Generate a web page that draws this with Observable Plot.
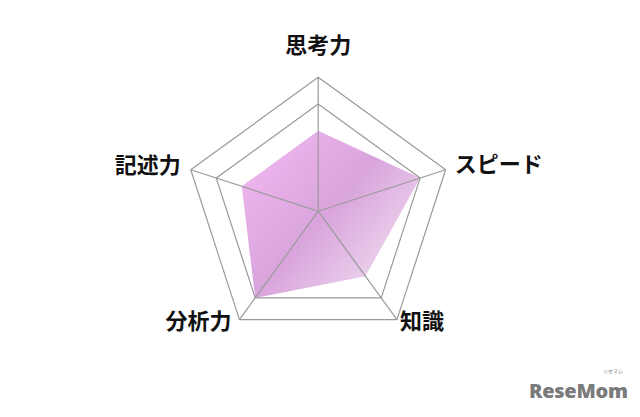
<!DOCTYPE html>
<html><head><meta charset="utf-8">
<script src="https://cdn.jsdelivr.net/npm/d3@7"></script>
<script src="https://cdn.jsdelivr.net/npm/@observablehq/plot@0.6"></script>
<style>
html,body{margin:0;padding:0;background:#fff;}
#chart{position:relative;width:640px;height:417px;}
#logo{position:absolute;left:529px;top:381px;font-family:"Noto Sans",sans-serif;font-weight:900;font-size:20px;line-height:20px;color:#7a7a7a;letter-spacing:-0.3px;}
#kana{position:absolute;left:603px;top:368px;font-family:"Noto Sans CJK JP",sans-serif;font-size:5px;line-height:6px;color:#7a7a7a;}
</style>
</head><body>
<div id="chart"></div>
<script>
const categories = ["思考力", "スピード", "知識", "分析力", "記述力"];
const values = [3, 4, 3, 4, 3];
const maxValue = 5;
const gridLevels = [4, 5];

const n = categories.length;
const ang = i => Math.PI / 2 - i * 2 * Math.PI / n;
const pt = (i, r) => [r * Math.cos(ang(i)), r * Math.sin(ang(i))];

const unit = 134 / maxValue; // px per unit
const cx = 317.7, cy = 210.7, W = 640, H = 417;

const areaData = categories.map((c, i) => { const [x, y] = pt(i, values[i]); return {c, x, y}; });
const gridData = gridLevels.flatMap(l => categories.concat([categories[0]]).map((c, k) => { const i = k % n; const [x, y] = pt(i, l); return {l, x, y}; }));
const spokes = categories.map((c, i) => { const [x, y] = pt(i, maxValue); return {x1: 0, y1: 0, x2: x, y2: y}; });
const labels = categories.map((c, i) => {
  const [x, y] = pt(i, maxValue);
  const cs = Math.cos(ang(i)), sn = Math.sin(ang(i));
  let ox = 0, oy = 0, anchor = "middle";
  if (Math.abs(cs) < 0.1) { oy = 31; }
  else if (cs > 0) { anchor = "start"; ox = sn > 0 ? 9 : 3; oy = sn > 0 ? 5 : -2; }
  else { anchor = "end"; ox = sn > 0 ? -10 : -8; oy = sn > 0 ? 4 : -2; }
  return {c, x: x + ox / unit, y: y + oy / unit, anchor};
});

const chart = document.getElementById("chart");
const p = Plot.plot({
  width: W, height: H,
  margin: 0,
  x: {domain: [-cx / unit, (W - cx) / unit], axis: null},
  y: {domain: [-(H - cy) / unit, cy / unit], axis: null},
  marks: [
    Plot.line(areaData.concat([areaData[0]]), {x: "x", y: "y", fill: "url(#radarGrad)", stroke: "none"}),
    Plot.line(gridData, {x: "x", y: "y", z: "l", stroke: "#9a9a9a", strokeWidth: 1.2}),
    Plot.link(spokes, {x1: "x1", y1: "y1", x2: "x2", y2: "y2", stroke: "#9a9a9a", strokeWidth: 1.2}),
    ...["start", "middle", "end"].map(a => Plot.text(labels.filter(d => d.anchor === a), {
      x: "x", y: "y", text: "c", textAnchor: a,
      fontSize: 22, fontWeight: 700, fill: "#111",
      fontFamily: "'Noto Sans CJK JP', sans-serif"
    }))
  ]
});
const ns = "http://www.w3.org/2000/svg";
const defs = document.createElementNS(ns, "defs");
defs.innerHTML = '<linearGradient id="radarGrad" gradientUnits="userSpaceOnUse" x1="240" y1="150" x2="400" y2="290">' +
  '<stop offset="0" stop-color="#f2b8f2"/><stop offset="0.5" stop-color="#d9a4dc"/><stop offset="1" stop-color="#f2e2f2"/></linearGradient>';
p.insertBefore(defs, p.firstChild);
chart.appendChild(p);
const logo = document.createElement("div");
logo.id = "logo";
logo.textContent = "ReseMom";
chart.appendChild(logo);
const kana = document.createElement("div");
kana.id = "kana";
kana.textContent = "リセマム";
chart.appendChild(kana);
</script>
</body></html>
